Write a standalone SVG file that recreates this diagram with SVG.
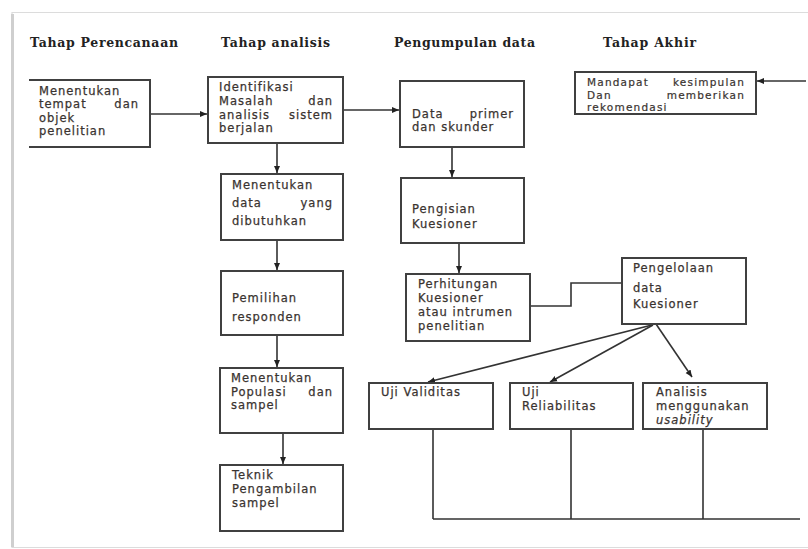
<svg xmlns="http://www.w3.org/2000/svg" width="808" height="549" viewBox="0 0 808 549">
<defs>
<marker id="ah" markerUnits="userSpaceOnUse" markerWidth="8" markerHeight="8" refX="7" refY="4" orient="auto">
<path d="M0 1 L7 4 L0 7 Z" fill="#222"/>
</marker>
<style>
.box{fill:#fff;stroke:#404040;stroke-width:2}
.t{font-family:"DejaVu Sans",Verdana,sans-serif;font-size:11.5px;letter-spacing:1px;fill:#3a3330;stroke:#3a3330;stroke-width:0.25}
.ts{font-family:"DejaVu Sans",Verdana,sans-serif;font-size:10.5px;letter-spacing:1.2px;fill:#3a3330;stroke:#3a3330;stroke-width:0.2}
.h{font-family:"DejaVu Serif","Liberation Serif",serif;font-size:12.5px;font-weight:bold;fill:#222}
.c{fill:none;stroke:#333;stroke-width:1.6}
.e{text-anchor:end}
</style>
</defs>
<rect width="808" height="549" fill="#fff"/>
<g id="frame">
<path d="M808 12.5 H12 V547.5 H808" fill="none" stroke="#dcdcdc" stroke-width="1.2"/>
<line x1="12.5" y1="14" x2="12.5" y2="547" stroke="#cfcfcf" stroke-width="3"/>
</g>
<g id="headers">
<text class="h" x="30" y="47" textLength="148" lengthAdjust="spacing">Tahap Perencanaan</text>
<text class="h" x="221" y="47" textLength="109" lengthAdjust="spacing">Tahap analisis</text>
<text class="h" x="394" y="47" textLength="141" lengthAdjust="spacing">Pengumpulan data</text>
<text class="h" x="603" y="47" textLength="93" lengthAdjust="spacing">Tahap Akhir</text>
</g>
<g id="connectors">
<path class="c" d="M150 114 H207" marker-end="url(#ah)"/>
<path class="c" d="M343 110 H399" marker-end="url(#ah)"/>
<path class="c" d="M806 81 H757" marker-end="url(#ah)"/>
<path class="c" d="M277 143 V173" marker-end="url(#ah)"/>
<path class="c" d="M277 240 V270" marker-end="url(#ah)"/>
<path class="c" d="M277 335 V367" marker-end="url(#ah)"/>
<path class="c" d="M283 433 V464" marker-end="url(#ah)"/>
<path class="c" d="M452 147 V177" marker-end="url(#ah)"/>
<path class="c" d="M459 243 V273" marker-end="url(#ah)"/>
<path class="c" d="M530 306 H571 V283 H622"/>
<path class="c" d="M652 325 L428 382" marker-end="url(#ah)"/>
<path class="c" d="M653 325 L550 382" marker-end="url(#ah)"/>
<path class="c" d="M656 324 L692 377" marker-end="url(#ah)"/>
<path class="c" d="M433 429 V519 M571 429 V519 M703 429 V519 M433 519 H800"/>
</g>
<g id="n-tempat">
<path class="box" d="M29 80 H150 V147 H29"/>
<text class="t" x="39" y="95">Menentukan</text>
<text class="t" x="39" y="108">tempat</text><text class="t e" x="139" y="108">dan</text>
<text class="t" x="39" y="122">objek</text>
<text class="t" x="39" y="135">penelitian</text>
</g>
<g id="n-identifikasi">
<rect class="box" x="208" y="77" width="135" height="66"/>
<text class="t" x="219" y="91">Identifikasi</text>
<text class="t" x="219" y="105">Masalah</text><text class="t e" x="333" y="105">dan</text>
<text class="t" x="219" y="119">analisis</text><text class="t e" x="333" y="119">sistem</text>
<text class="t" x="219" y="132">berjalan</text>
</g>
<g id="n-data-primer">
<rect class="box" x="400" y="81" width="124" height="66"/>
<text class="t" x="412" y="118">Data</text><text class="t e" x="514" y="118">primer</text>
<text class="t" x="412" y="131">dan skunder</text>
</g>
<g id="n-kesimpulan">
<rect class="box" x="575" y="72" width="181" height="42"/>
<text class="ts" x="587" y="86">Mandapat</text><text class="ts e" x="745" y="86">kesimpulan</text>
<text class="ts" x="587" y="99">Dan</text><text class="ts e" x="745" y="99">memberikan</text>
<text class="ts" x="587" y="111">rekomendasi</text>
</g>
<g id="n-menentukan-data">
<rect class="box" x="221" y="174" width="122" height="66"/>
<text class="t" x="232" y="189">Menentukan</text>
<text class="t" x="232" y="207">data</text><text class="t e" x="333" y="207">yang</text>
<text class="t" x="232" y="225">dibutuhkan</text>
</g>
<g id="n-pemilihan">
<rect class="box" x="221" y="271" width="122" height="64"/>
<text class="t" x="232" y="302">Pemilihan</text>
<text class="t" x="232" y="321">responden</text>
</g>
<g id="n-populasi">
<rect class="box" x="220" y="368" width="123" height="65"/>
<text class="t" x="231" y="382">Menentukan</text>
<text class="t" x="231" y="396">Populasi</text><text class="t e" x="333" y="396">dan</text>
<text class="t" x="231" y="409">sampel</text>
</g>
<g id="n-teknik">
<rect class="box" x="220" y="465" width="123" height="66"/>
<text class="t" x="232" y="479">Teknik</text>
<text class="t" x="232" y="493">Pengambilan</text>
<text class="t" x="232" y="507">sampel</text>
</g>
<g id="n-pengisian">
<rect class="box" x="401" y="178" width="123" height="65"/>
<text class="t" x="412" y="213">Pengisian</text>
<text class="t" x="412" y="228">Kuesioner</text>
</g>
<g id="n-perhitungan">
<rect class="box" x="406" y="274" width="124" height="67"/>
<text class="t" x="418" y="288">Perhitungan</text>
<text class="t" x="418" y="302">Kuesioner</text>
<text class="t" x="418" y="316">atau intrumen</text>
<text class="t" x="418" y="330">penelitian</text>
</g>
<g id="n-pengelolaan">
<rect class="box" x="622" y="258" width="124" height="66"/>
<text class="t" x="633" y="272">Pengelolaan</text>
<text class="t" x="633" y="292">data</text>
<text class="t" x="633" y="308">Kuesioner</text>
</g>
<g id="n-validitas">
<rect class="box" x="369" y="383" width="124" height="46"/>
<text class="t" x="381" y="396">Uji Validitas</text>
</g>
<g id="n-reliabilitas">
<rect class="box" x="510" y="383" width="123" height="46"/>
<text class="t" x="522" y="396">Uji</text>
<text class="t" x="522" y="410">Reliabilitas</text>
</g>
<g id="n-analisis">
<rect class="box" x="643" y="383" width="124" height="46"/>
<text class="t" x="656" y="396">Analisis</text>
<text class="t" x="656" y="410">menggunakan</text>
<text class="t" x="656" y="424" font-style="italic">usability</text>
</g>
</svg>
